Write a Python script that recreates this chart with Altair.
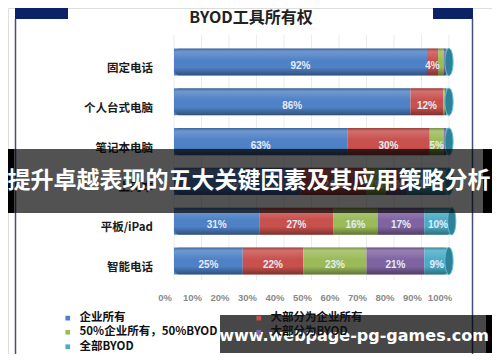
import altair as alt
import pandas as pd

# ---- data ----
categories = ["固定电话", "个人台式电脑", "笔记本电脑", "上网本", "平板/iPad", "智能电话"]
series_names = ["企业所有", "大部分为企业所有", "50%企业所有，50%BYOD", "大部分为BYOD", "全部BYOD"]
s_corp = [92, 86, 63, 46, 31, 25]
s_mostly_corp = [4, 12, 30, 24, 27, 22]
s_half = [2, 0.5, 5, 7, 16, 23]
s_mostly_byod = [1, 0.5, 1, 8, 17, 21]
s_byod = [1, 1, 1, 15, 10, 9]
colors = ["#4F81C6", "#C8504D", "#9BBB59", "#8064A2", "#4BACC6"]
ticks = [0, 10, 20, 30, 40, 50, 60, 70, 80, 90, 100]
tick_labels = [f"{t}%" for t in ticks]
title_text = "BYOD工具所有权"
banner_text = "提升卓越表现的五大关键因素及其应用策略分析"
watermark_text = "www.webpage-pg-games.com"
# legend is filled column by column; this order reads row by row like the reference
legend_order = [series_names[0], series_names[2], series_names[4], series_names[1], series_names[3]]

series_values = [s_corp, s_mostly_corp, s_half, s_mostly_byod, s_byod]

rows = []
for i, cat in enumerate(categories):
    acc = 0.0
    for j, name in enumerate(series_names):
        v = series_values[j][i]
        rows.append(dict(category=cat, row=i, series=name, order=j, value=v,
                         x0=acc, x1=acc + v, mid=acc + v / 2.0,
                         label=(f"{v:g}%" if v >= 4 else ""),
                         ya=i - 0.34, yb=i + 0.34))
        acc += v
df = pd.DataFrame(rows)
tot = df.groupby(["row", "category"], as_index=False)["value"].sum()
tot["zero"] = 0
tot["ya"] = tot["row"] - 0.34
tot["yb"] = tot["row"] + 0.34
tick_df = pd.DataFrame({"t": ticks, "lab": tick_labels})
one = pd.DataFrame({"a": [0]})

W, H = 484, 346
xscale = alt.Scale(domain=[-166 / 2.75, (W - 166) / 2.75], nice=False, zero=False)
ystep = 39.8
yd0 = -54 / ystep
yscale = alt.Scale(domain=[yd0, yd0 + H / ystep], reverse=True, nice=False, zero=False)
CJK = "Noto Sans CJK SC"

grid = alt.Chart(tick_df).mark_rule(color="#ebebeb", strokeWidth=1).encode(
    x=alt.X("t:Q", scale=xscale, axis=None),
    y=alt.value(27), y2=alt.value(272))

bars = alt.Chart(df).mark_rect().encode(
    x=alt.X("x0:Q", scale=xscale, axis=None), x2="x1:Q",
    y=alt.Y("ya:Q", scale=yscale, axis=None), y2="yb:Q",
    color=alt.Color("series:N",
                    scale=alt.Scale(domain=series_names, range=colors),
                    legend=alt.Legend(orient="none", legendX=54, legendY=304, columns=2,
                                      values=legend_order,
                                      columnPadding=35, rowPadding=1.5, symbolType="square",
                                      symbolSize=22, symbolStrokeWidth=0, title=None,
                                      labelFont=CJK, labelFontSize=11.5, labelFontWeight="bold",
                                      labelColor="#111", labelOffset=6, labelLimit=300)),
    order="order:Q")

shade = alt.Chart(tot).mark_rect(
    fill=alt.Gradient(gradient="linear", x1=0, x2=0, y1=0, y2=1, stops=[
        alt.GradientStop(color="rgba(0,0,0,0.25)", offset=0),
        alt.GradientStop(color="rgba(255,255,255,0.18)", offset=0.12),
        alt.GradientStop(color="rgba(255,255,255,0.0)", offset=0.45),
        alt.GradientStop(color="rgba(0,0,0,0.0)", offset=0.7),
        alt.GradientStop(color="rgba(0,0,0,0.38)", offset=1)]),
    cornerRadius=6).encode(
    x=alt.X("zero:Q", scale=xscale, axis=None), x2="value:Q",
    y=alt.Y("ya:Q", scale=yscale, axis=None), y2="yb:Q")

cap = alt.Chart(tot).mark_point(
    shape="M0,-1A0.3,1,0,1,1,0,1A0.3,1,0,1,1,0,-1Z", filled=True,
    fill="#2E8197", stroke="#5CC0DA", strokeWidth=1, opacity=1, size=740).encode(
    x=alt.X("value:Q", scale=xscale, axis=None),
    y=alt.Y("row:Q", scale=yscale, axis=None))

pct = alt.Chart(df).mark_text(font="Liberation Sans", fontSize=10, fontWeight="bold",
                              color="#E4EBF5", dy=4).encode(
    x=alt.X("mid:Q", scale=xscale, axis=None),
    y=alt.Y("row:Q", scale=yscale, axis=None),
    text="label:N")

catlab = alt.Chart(tot).mark_text(font=CJK, fontSize=11.5, fontWeight="bold",
                                  color="#1a1a1a", align="right", dy=7).encode(
    x=alt.value(145),
    y=alt.Y("row:Q", scale=yscale, axis=None),
    text="category:N")

ticklab = alt.Chart(tick_df).mark_text(font="Liberation Sans", fontSize=9.5, fontWeight="bold",
                                       color="#8a8a8a", dx=-9).encode(
    x=alt.X("t:Q", scale=xscale, axis=None),
    y=alt.value(290),
    text="lab:N")

title = alt.Chart(one).mark_text(text=title_text, font=CJK, fontSize=16, fontWeight="bold",
                                 color="#222").encode(x=alt.value(243), y=alt.value(10))

navy_l = alt.Chart(one).mark_rect(color="#0C2266").encode(
    x=alt.value(7), x2=alt.value(60), y=alt.value(0), y2=alt.value(11))
navy_r = alt.Chart(one).mark_rect(color="#0C2266").encode(
    x=alt.value(425), x2=alt.value(465), y=alt.value(0), y2=alt.value(11))
frame_l = alt.Chart(one).mark_rule(color="#44507A", strokeWidth=1.5).encode(
    x=alt.value(7.5), y=alt.value(11), y2=alt.value(350))
frame_r = alt.Chart(one).mark_rule(color="#44507A", strokeWidth=1.5).encode(
    x=alt.value(464.5), y=alt.value(11), y2=alt.value(350))
frame_b = alt.Chart(one).mark_rule(color="#44507A", strokeWidth=1.5).encode(
    x=alt.value(7), x2=alt.value(465), y=alt.value(349.5))

banner = alt.Chart(one).mark_rect(color="#000", opacity=0.68).encode(
    x=alt.value(0), x2=alt.value(W), y=alt.value(141), y2=alt.value(205))
banner_l = alt.Chart(one).mark_rect(color="#000").encode(
    x=alt.value(0), x2=alt.value(6), y=alt.value(141), y2=alt.value(205))
banner_r = alt.Chart(one).mark_rect(color="#000").encode(
    x=alt.value(475), x2=alt.value(W), y=alt.value(141), y2=alt.value(205))
banner_t = alt.Chart(one).mark_text(text=banner_text, font=CJK, fontSize=23, fontWeight="bold",
                                    color="#fff").encode(x=alt.value(241), y=alt.value(173))

wm = alt.Chart(one).mark_rect(color="#000", opacity=0.72).encode(
    x=alt.value(212), x2=alt.value(W), y=alt.value(307), y2=alt.value(345))
wm_r = alt.Chart(one).mark_rect(color="#000").encode(
    x=alt.value(478), x2=alt.value(W), y=alt.value(307), y2=alt.value(345))
wm_t = alt.Chart(one).mark_text(text=watermark_text, font="DejaVu Sans", fontSize=16,
                                fontWeight="bold", color="#fff").encode(
    x=alt.value(346), y=alt.value(328))

chart = alt.layer(
    grid, bars, shade, cap, pct, catlab, ticklab, title,
    navy_l, navy_r, frame_l, frame_r, frame_b,
    banner, banner_l, banner_r, banner_t, wm, wm_r, wm_t
).properties(
    width=W, height=H, autosize=alt.AutoSizeParams(type="none"), padding=0
).configure_view(stroke=None).configure(background="#ffffff")

chart.save("out.html", embed_options={"renderer": "svg", "actions": False})
